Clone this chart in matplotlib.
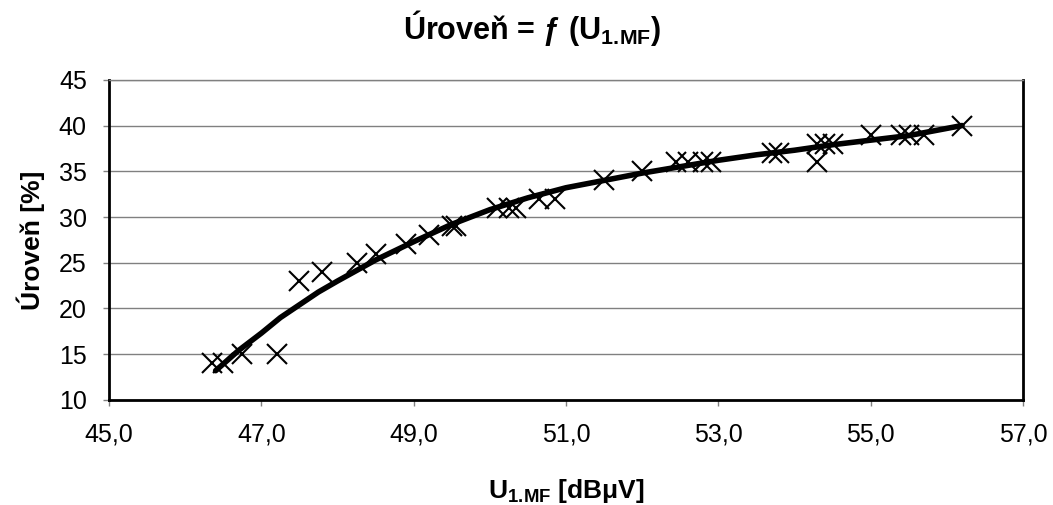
import matplotlib
matplotlib.use("Agg")
import matplotlib.pyplot as plt

plt.rcParams['font.family'] = ['Liberation Sans', 'DejaVu Sans']
plt.rcParams['mathtext.fontset'] = 'custom'
plt.rcParams['mathtext.rm'] = 'Liberation Sans'
plt.rcParams['mathtext.bf'] = 'Liberation Sans:bold'
plt.rcParams['mathtext.it'] = 'Liberation Sans:italic'

# measured points (U1.MF [dBuV], level [%])
u_mf = [46.35, 46.5, 46.75, 47.2, 47.5, 47.8, 48.25, 48.5, 48.9, 49.2,
        49.5, 49.55, 50.1, 50.25, 50.35, 50.65, 50.85, 51.5, 52.0, 52.45,
        52.6, 52.8, 52.9, 53.7, 53.8, 54.3, 54.3, 54.4, 54.5, 55.0,
        55.4, 55.5, 55.7, 56.2]
level = [14, 14, 15, 15, 23, 24, 25, 26, 27, 28,
         29, 29, 31, 31, 31, 32, 32, 34, 35, 36,
         36, 36, 36, 37, 37, 38, 36, 38, 38, 39,
         39, 39, 39, 40]

# trend curve
trend_x = [46.4, 46.7, 47.0, 47.25, 47.5, 47.75, 48.0, 48.5, 49.0, 49.5, 50.0, 50.5,
           51.0, 51.5, 52.0, 52.5, 53.0, 53.5, 54.0, 54.5, 55.0, 55.5, 56.2]
trend_y = [13.2, 15.4, 17.3, 19.0, 20.4, 21.8, 23.0, 25.3, 27.3, 29.2, 30.8, 32.1,
           33.2, 34.0, 34.8, 35.5, 36.2, 36.8, 37.3, 37.9, 38.4, 38.9, 40.0]

xticks = [45, 47, 49, 51, 53, 55, 57]
yticks = [10, 15, 20, 25, 30, 35, 40, 45]

fig = plt.figure(figsize=(10.53, 5.05), dpi=100)
ax = fig.add_axes([0.1035, 0.208, 0.868, 0.634])

ax.plot(trend_x, trend_y, color='black', lw=4, solid_capstyle='round',
        solid_joinstyle='round', zorder=3)
ax.plot(u_mf, level, ls='none', marker='x', ms=15, mew=1.5, color='black', zorder=4)

ax.set_xlim(45, 57)
ax.set_ylim(10, 45)
ax.set_xticks(xticks)
ax.set_xticklabels([f"{t:.1f}".replace('.', ',') for t in xticks])
ax.set_yticks(yticks)
ax.grid(axis='y', color='#808080', lw=1)
ax.set_axisbelow(True)

for side in ['left', 'bottom', 'right']:
    ax.spines[side].set_color('black')
    ax.spines[side].set_linewidth(2)
ax.spines['top'].set_color('#808080')
ax.spines['top'].set_linewidth(1)

ax.tick_params(axis='both', direction='out', length=4, width=1, color='#808080',
               labelsize=18)
ax.tick_params(axis='x', pad=12)
ax.tick_params(axis='y', pad=12)

fig.suptitle('Úroveň = ƒ (U$_\\mathbf{1.\\!MF}$)', x=0.505, y=0.985,
             fontsize=22, fontweight='bold')
ax.set_xlabel('U$_\\mathbf{1.\\!MF}$ [dBμV]', fontsize=19, fontweight='bold', labelpad=22)
ax.set_ylabel('Úroveň [%]', fontsize=19, fontweight='bold', labelpad=10)

fig.savefig('out.png', dpi=100)
